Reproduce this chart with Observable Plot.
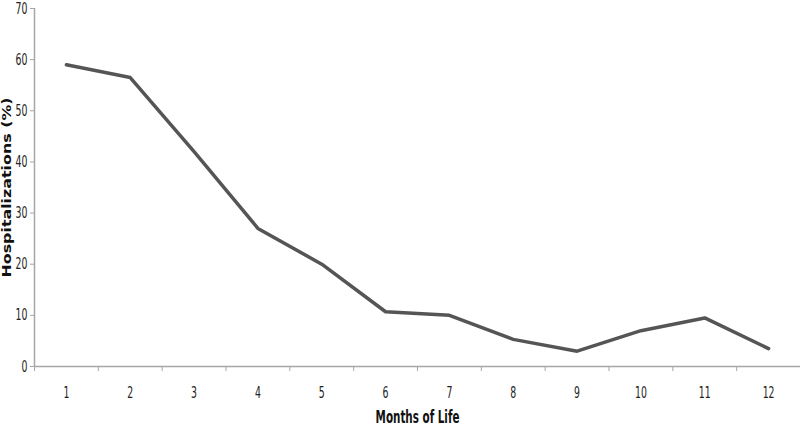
<!DOCTYPE html>
<html><head><meta charset="utf-8">
<script src="https://cdn.jsdelivr.net/npm/d3@7"></script>
<script src="https://cdn.jsdelivr.net/npm/@observablehq/plot@0.6"></script>
<style>body{margin:0;background:#fff}</style>
</head><body><div id="chart"></div>
<script>
const months = [1,2,3,4,5,6,7,8,9,10,11,12];
const hospitalizations = [59, 56.5, 42, 27, 20, 10.7, 10, 5.3, 3, 7, 9.5, 3.5];
const yTicks = [0,10,20,30,40,50,60,70];
const xTitle = "Months of Life";
const yTitle = "Hospitalizations (%)";

const data = months.map((m,i)=>({month:m, value:hospitalizations[i]}));
const boundaries = d3.range(0.5, 13, 1);
const narrow = "'DejaVu Sans Condensed','DejaVu Sans',sans-serif";

const chart = Plot.plot({
  width: 800, height: 431,
  marginLeft: 34, marginRight: 0, marginTop: 8, marginBottom: 65,
  style: {fontFamily: narrow, fontSize: "16px", color: "#222", background: "#fff"},
  x: {domain: [0.5, 12.5], axis: null},
  y: {domain: [0, 70], axis: null},
  marks: [
    Plot.ruleX([0.5], {stroke: "#a6a6a6", strokeWidth: 1.5}),
    Plot.ruleY([0], {stroke: "#a6a6a6", strokeWidth: 1.5}),
    Plot.axisY({ticks: yTicks, tickSize: 4, tickPadding: 3, stroke: "#a6a6a6", label: null, fontSize: 16, ariaLabel: "ylab"}),
    Plot.axisX({ticks: boundaries, tickSize: 5, tickFormat: () => "", stroke: "#a6a6a6", label: null}),
    Plot.axisX({ticks: months, tickSize: 0, tickPadding: 20, label: null, fontSize: 16, ariaLabel: "xlab"}),
    Plot.line(data, {x: "month", y: "value", stroke: "#555555", strokeWidth: 3.5}),
    Plot.text([yTitle], {frameAnchor: "left", dx: -28, rotate: -90, textAnchor: "middle", fontFamily: "'DejaVu Sans',sans-serif", fontWeight: "bold", fontSize: 13, fill: "#111"}),
    Plot.text([xTitle], {frameAnchor: "bottom", dy: 56, fontFamily: narrow, fontWeight: "bold", fontSize: 18, fill: "#111"})
  ]
});
document.getElementById("chart").appendChild(chart);

// reshape the labels to match the narrow / wide faces of the reference
function squeeze(els, s) {
  els.forEach(el => {
    const t = el.getAttribute("transform") || "";
    el.setAttribute("transform", `${t} scale(${s},1)`);
  });
}
squeeze([...chart.querySelectorAll('[aria-label="ylab tick label"] text, [aria-label="xlab tick label"] text')], 0.65);
squeeze([...chart.querySelectorAll('text')].filter(t => t.textContent === xTitle), 0.64);
squeeze([...chart.querySelectorAll('text')].filter(t => t.textContent === yTitle), 1.22);
</script>
</body></html>
